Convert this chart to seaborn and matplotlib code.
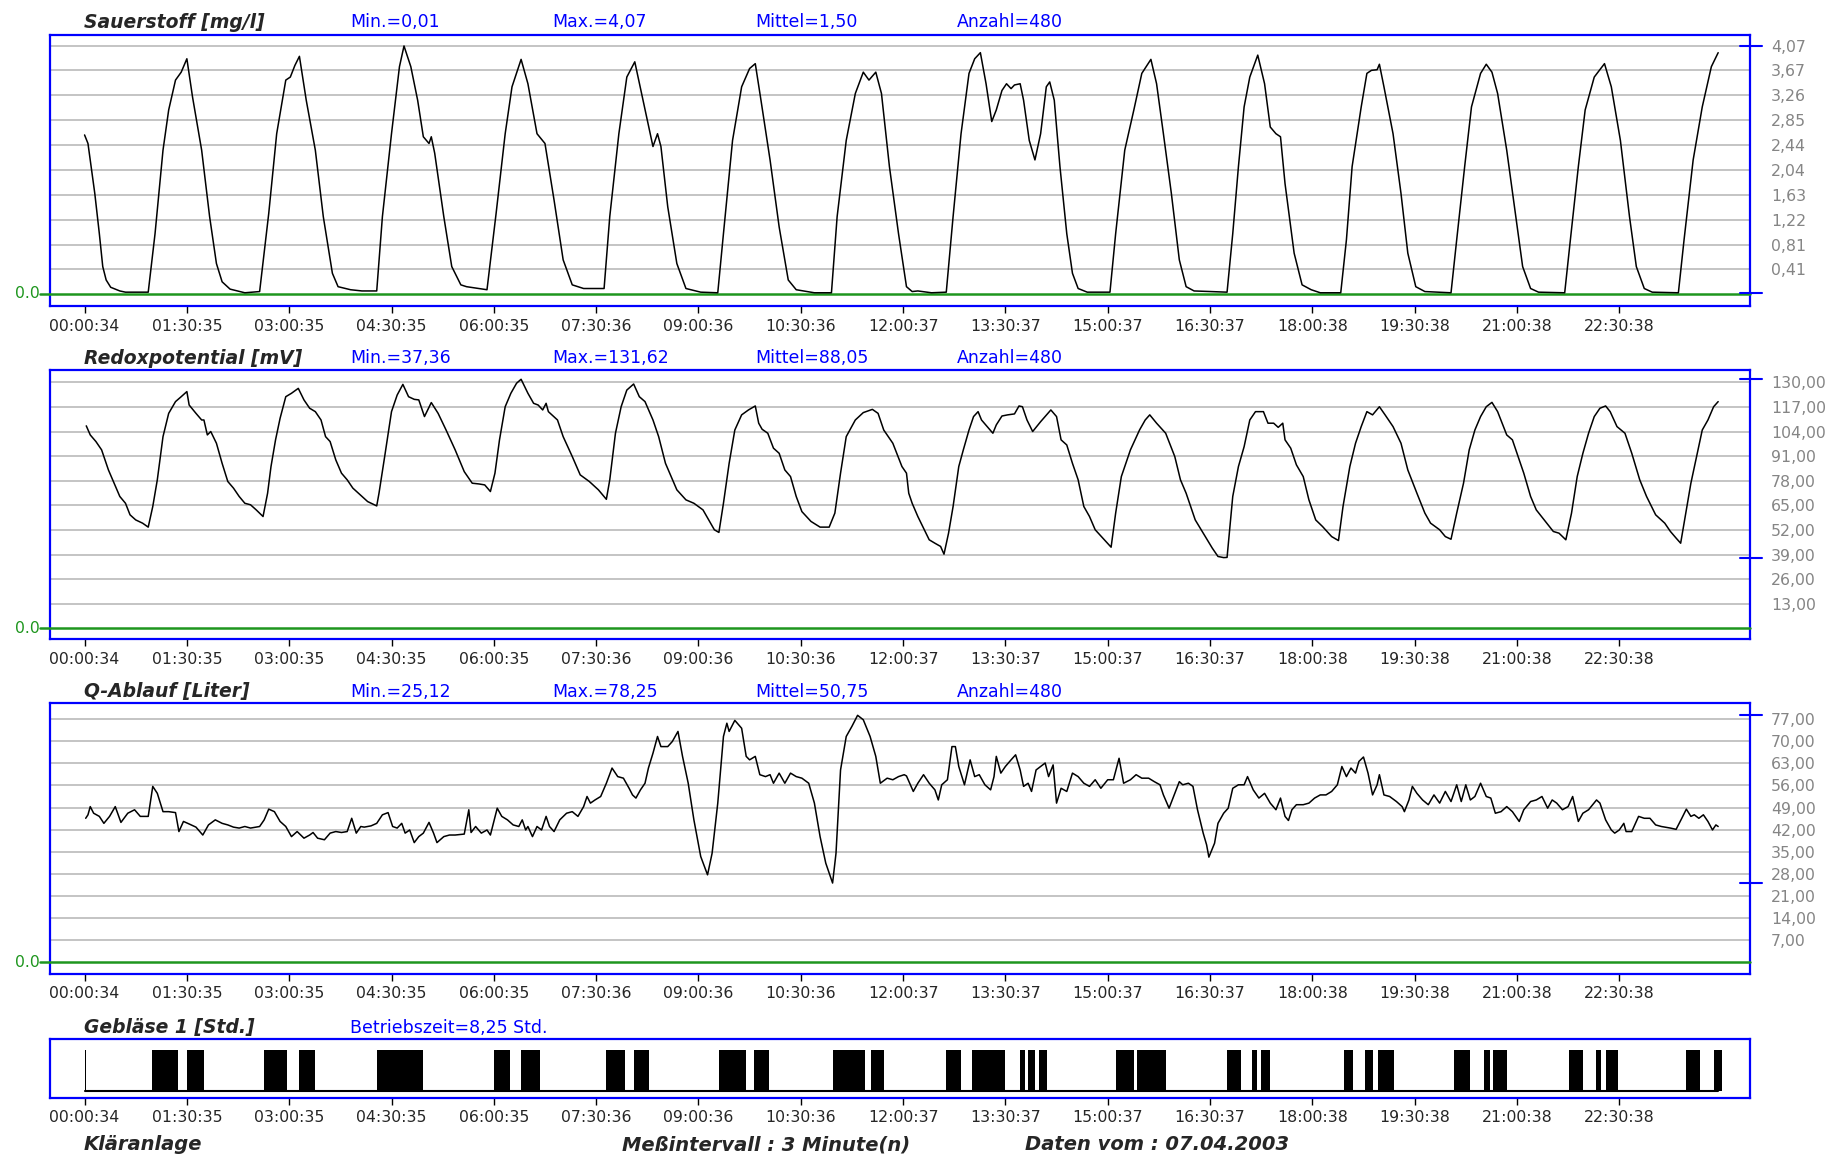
import pandas as pd
import matplotlib
matplotlib.use("Agg")
import matplotlib.pyplot as plt
import seaborn as sns
from matplotlib.transforms import blended_transform_factory

sns.set_style("white")
plt.rcParams['font.family'] = ['DejaVu Sans']

sauerstoff = [(0, 2.61), (3, 2.47), (5, 2.2), (9, 1.65), (13, 0.99), (16, 0.45), (19, 0.23), (23, 0.11), (31, 0.05), (36, 0.03),
              (56, 0.03), (62, 0.99), (69, 2.36), (74, 3.02), (80, 3.51), (85, 3.64), (90, 3.86), (95, 3.23), (103, 2.36), (110, 1.27),
              (116, 0.5), (121, 0.2), (128, 0.08), (141, 0.02), (154, 0.04), (162, 1.32), (169, 2.63), (177, 3.51), (181, 3.56), (185, 3.75),
              (189, 3.9), (195, 3.18), (203, 2.36), (210, 1.27), (218, 0.34), (223, 0.12), (234, 0.07), (244, 0.05), (257, 0.05), (262, 1.27),
              (270, 2.63), (277, 3.73), (281, 4.07), (287, 3.73), (293, 3.18), (298, 2.58), (303, 2.47), (305, 2.58), (308, 2.31), (316, 1.27),
              (323, 0.45), (331, 0.15), (336, 0.12), (354, 0.07), (362, 1.32), (370, 2.63), (376, 3.4), (384, 3.85), (390, 3.45), (398, 2.63),
              (405, 2.47), (413, 1.54), (421, 0.56), (429, 0.15), (439, 0.09), (457, 0.09), (462, 1.27), (470, 2.63), (477, 3.56), (484, 3.81),
              (490, 3.29), (495, 2.85), (500, 2.42), (504, 2.63), (507, 2.42), (513, 1.43), (521, 0.5), (529, 0.09), (542, 0.03), (557, 0.02),
              (562, 0.99), (570, 2.52), (578, 3.4), (585, 3.7), (590, 3.78), (595, 3.18), (603, 2.2), (611, 1.1), (619, 0.23), (626, 0.07),
              (642, 0.02), (657, 0.02), (662, 1.27), (670, 2.52), (678, 3.29), (685, 3.64), (690, 3.51), (696, 3.64), (701, 3.29), (708, 2.09),
              (716, 0.99), (723, 0.12), (728, 0.04), (733, 0.05), (745, 0.02), (758, 0.03), (764, 1.27), (771, 2.63), (778, 3.62), (783, 3.86),
              (788, 3.96), (793, 3.45), (798, 2.83), (802, 3.02), (807, 3.34), (811, 3.45), (815, 3.37), (818, 3.43), (823, 3.45), (826, 3.18),
              (831, 2.52), (836, 2.2), (841, 2.63), (846, 3.4), (849, 3.48), (853, 3.18), (858, 2.09), (864, 0.99), (869, 0.34), (874, 0.09),
              (882, 0.03), (902, 0.03), (907, 0.99), (915, 2.36), (923, 3.02), (930, 3.62), (938, 3.85), (943, 3.45), (949, 2.63), (956, 1.65),
              (963, 0.56), (969, 0.12), (976, 0.05), (1005, 0.03), (1010, 0.99), (1015, 2.09), (1020, 3.07), (1025, 3.56), (1032, 3.92), (1038, 3.45),
              (1043, 2.74), (1048, 2.63), (1052, 2.58), (1056, 1.81), (1064, 0.67), (1071, 0.15), (1079, 0.07), (1087, 0.02), (1105, 0.02), (1110, 0.89),
              (1115, 2.09), (1123, 3.07), (1128, 3.62), (1132, 3.67), (1137, 3.68), (1139, 3.77), (1143, 3.4), (1151, 2.63), (1158, 1.65), (1164, 0.67),
              (1171, 0.12), (1179, 0.04), (1202, 0.02), (1207, 0.89), (1214, 2.09), (1220, 3.07), (1228, 3.62), (1233, 3.77), (1238, 3.64), (1243, 3.29),
              (1251, 2.36), (1259, 1.27), (1265, 0.45), (1272, 0.09), (1279, 0.03), (1302, 0.02), (1307, 0.89), (1314, 2.09), (1320, 3.02), (1328, 3.56),
              (1337, 3.78), (1343, 3.4), (1351, 2.52), (1359, 1.27), (1365, 0.45), (1372, 0.09), (1379, 0.03), (1402, 0.02), (1407, 0.89), (1415, 2.2),
              (1423, 3.07), (1431, 3.73), (1437, 3.96)]

redox = [(1.5, 107.0), (5, 102.2), (10, 98.7), (15, 94.3), (21, 83.7), (26, 76.7), (31, 69.7), (36, 66.1), (40, 60.0), (45, 57.3),
         (51, 55.6), (56, 53.5), (60, 64.4), (64, 78.5), (69, 101.3), (74, 113.6), (80, 119.8), (85, 122.4), (90, 125.1), (92, 118.0),
         (98, 113.6), (103, 110.1), (105, 110.1), (108, 102.2), (111, 104.0), (116, 97.8), (121, 87.2), (126, 77.6), (131, 74.1), (136, 69.7),
         (141, 66.1), (146, 65.3), (151, 62.6), (157, 59.1), (161, 71.4), (164, 85.5), (168, 99.6), (172, 111.0), (177, 122.4), (182, 124.2),
         (188, 126.8), (193, 120.7), (198, 116.3), (203, 114.5), (208, 110.1), (212, 101.3), (216, 98.7), (221, 89.0), (226, 82.0), (231, 78.5),
         (236, 74.1), (244, 69.7), (249, 67.0), (257, 64.7), (259, 71.4), (264, 90.8), (270, 114.5), (275, 123.3), (280, 128.9), (285, 122.4),
         (290, 121.0), (294, 120.7), (299, 111.9), (305, 119.3), (311, 113.6), (318, 104.8), (326, 94.3), (334, 82.8), (341, 76.7), (347, 76.3),
         (352, 75.8), (357, 72.3), (361, 82.0), (365, 99.6), (370, 117.1), (375, 124.2), (380, 129.5), (384, 131.6), (390, 124.2), (395, 118.9),
         (399, 118.0), (403, 115.4), (406, 118.9), (408, 114.5), (416, 110.1), (421, 101.3), (429, 90.8), (436, 81.1), (444, 77.6), (452, 73.2),
         (459, 68.2), (462, 78.5), (467, 103.1), (472, 117.1), (477, 125.9), (483, 129.1), (488, 122.4), (493, 119.8), (500, 110.1), (505, 101.3),
         (511, 87.2), (516, 80.2), (521, 73.2), (529, 67.9), (536, 66.1), (544, 62.6), (549, 57.3), (554, 52.1), (558, 50.7), (562, 66.1),
         (567, 87.2), (572, 104.8), (578, 112.8), (584, 115.4), (590, 117.5), (593, 108.4), (596, 105.2), (601, 103.1), (606, 95.2), (611, 92.5),
         (616, 83.7), (621, 80.2), (626, 69.7), (631, 61.7), (639, 56.5), (647, 53.5), (655, 53.5), (660, 60.9), (665, 82.0), (670, 101.3),
         (678, 110.1), (685, 114.0), (693, 115.7), (698, 113.6), (703, 104.8), (711, 97.8), (719, 85.5), (723, 82.0), (725, 71.4), (728, 66.1),
         (733, 59.1), (738, 52.9), (743, 46.8), (748, 45.0), (753, 43.3), (756, 39.2), (760, 50.3), (764, 64.4), (769, 85.5), (773, 94.3),
         (778, 104.8), (782, 111.9), (786, 114.5), (789, 110.1), (794, 106.6), (799, 103.1), (802, 107.5), (807, 112.2), (812, 112.8), (818, 113.3),
         (822, 117.5), (825, 117.1), (829, 110.1), (834, 104.0), (841, 109.2), (850, 115.4), (855, 111.9), (859, 99.6), (864, 96.9), (869, 87.2),
         (874, 78.5), (879, 64.4), (884, 59.1), (889, 52.1), (897, 46.8), (903, 42.9), (907, 60.9), (912, 80.2), (920, 94.3), (928, 104.8),
         (933, 110.1), (937, 112.8), (943, 108.4), (951, 103.1), (959, 90.8), (964, 78.5), (969, 71.4), (977, 57.3), (984, 50.3), (992, 42.4),
         (997, 38.0), (1002, 37.4), (1005, 37.5), (1010, 69.7), (1015, 85.5), (1020, 96.0), (1025, 110.1), (1030, 114.5), (1037, 114.5), (1041, 108.4),
         (1046, 108.4), (1050, 106.2), (1054, 108.4), (1056, 99.6), (1061, 95.2), (1066, 86.4), (1072, 80.2), (1077, 67.9), (1083, 57.3), (1089, 53.8),
         (1097, 48.5), (1103, 46.4), (1107, 64.4), (1113, 85.5), (1118, 97.8), (1123, 106.6), (1128, 114.5), (1133, 112.8), (1139, 117.1), (1144, 112.8),
         (1151, 106.6), (1158, 97.8), (1164, 83.7), (1172, 71.4), (1179, 60.9), (1184, 55.6), (1192, 52.1), (1197, 48.5), (1202, 47.1), (1207, 60.9),
         (1213, 76.7), (1218, 94.3), (1223, 104.8), (1228, 111.9), (1233, 117.1), (1238, 119.4), (1243, 114.5), (1251, 102.2), (1256, 99.6), (1261, 90.8),
         (1266, 82.0), (1272, 69.7), (1277, 62.6), (1284, 57.3), (1292, 51.2), (1297, 50.3), (1303, 46.8), (1308, 60.9), (1313, 80.2), (1318, 92.5),
         (1323, 103.1), (1328, 111.9), (1333, 116.3), (1338, 117.5), (1342, 114.5), (1348, 106.6), (1355, 103.1), (1361, 92.5), (1368, 78.5), (1374, 69.7),
         (1382, 60.0), (1390, 55.6), (1395, 51.2), (1400, 47.7), (1404, 45.0), (1408, 59.1), (1413, 76.7), (1418, 90.8), (1423, 104.8), (1428, 110.1),
         (1433, 117.1), (1437, 119.8)]

q_ablauf = [(1, 45.6), (3, 46.7), (5, 49.3), (8, 47.2), (13, 46.2), (17, 44.0), (22, 46.2), (27, 49.3), (32, 44.3), (38, 47.2),
            (44, 48.3), (49, 46.2), (56, 46.2), (60, 55.7), (64, 53.5), (69, 47.7), (74, 47.7), (80, 47.4), (83, 41.4), (87, 44.6),
            (92, 43.8), (98, 42.8), (104, 40.3), (109, 43.5), (115, 45.1), (121, 44.0), (126, 43.5), (131, 42.8), (136, 42.5), (141, 43.0),
            (146, 42.5), (154, 43.0), (158, 45.1), (162, 48.5), (167, 47.7), (172, 44.6), (177, 43.0), (182, 39.8), (187, 41.4), (193, 39.3),
            (198, 40.3), (201, 41.1), (205, 39.3), (211, 38.8), (216, 40.9), (221, 41.4), (226, 41.1), (231, 41.4), (235, 45.6), (239, 40.9),
            (243, 43.0), (246, 42.8), (252, 43.2), (257, 44.0), (262, 46.7), (267, 47.4), (271, 43.0), (275, 42.5), (279, 44.0), (282, 40.9),
            (286, 41.9), (290, 37.9), (294, 39.8), (298, 40.9), (303, 44.3), (307, 40.9), (310, 37.9), (316, 39.8), (321, 40.3), (326, 40.3),
            (334, 40.6), (338, 48.3), (340, 41.1), (344, 43.0), (349, 40.9), (354, 41.9), (357, 40.3), (363, 48.8), (367, 46.2), (372, 45.1),
            (377, 43.5), (382, 43.0), (385, 45.1), (388, 41.9), (390, 43.0), (394, 39.8), (398, 43.0), (402, 41.9), (406, 46.2), (409, 43.0),
            (413, 41.4), (418, 45.1), (424, 47.2), (429, 47.7), (434, 46.2), (439, 49.3), (442, 52.5), (445, 50.4), (449, 51.4), (454, 52.5),
            (459, 56.7), (464, 61.5), (469, 58.8), (474, 58.3), (479, 55.1), (482, 53.0), (485, 52.0), (489, 54.6), (493, 56.7), (496, 61.5),
            (500, 66.2), (504, 71.5), (507, 68.3), (513, 68.3), (517, 69.9), (522, 73.1), (526, 65.2), (531, 56.7), (536, 45.1), (542, 33.5),
            (548, 27.7), (552, 34.5), (557, 50.4), (562, 71.5), (565, 75.7), (567, 73.1), (572, 76.6), (578, 74.1), (582, 65.2), (585, 64.1),
            (590, 65.2), (594, 59.4), (599, 58.8), (603, 59.4), (606, 56.7), (611, 59.9), (616, 56.7), (621, 59.9), (626, 58.8), (631, 58.3),
            (637, 56.7), (642, 50.4), (647, 39.8), (652, 31.4), (658, 25.1), (661, 34.5), (665, 60.9), (670, 71.5), (675, 74.7), (680, 78.2),
            (685, 76.8), (691, 71.5), (696, 65.2), (700, 56.7), (706, 58.3), (711, 57.8), (716, 58.8), (721, 59.4), (723, 59.0), (729, 54.1),
            (733, 56.7), (738, 59.4), (743, 56.7), (748, 54.6), (751, 51.4), (754, 56.2), (759, 57.8), (763, 68.3), (766, 68.3), (769, 62.0),
            (774, 56.2), (779, 64.1), (783, 58.8), (787, 59.4), (792, 56.2), (797, 54.6), (800, 58.8), (802, 65.2), (806, 59.9), (810, 62.0),
            (815, 64.1), (819, 65.7), (823, 60.9), (826, 55.7), (830, 56.7), (833, 54.1), (837, 60.9), (841, 62.0), (845, 63.1), (848, 58.8),
            (852, 62.5), (855, 50.4), (859, 55.1), (864, 54.1), (869, 59.9), (874, 58.8), (879, 56.7), (884, 55.7), (889, 57.8), (894, 55.1),
            (900, 57.8), (905, 57.8), (910, 64.6), (914, 56.7), (920, 57.8), (925, 59.4), (930, 58.3), (936, 58.3), (941, 57.2), (946, 56.2),
            (949, 53.0), (954, 48.8), (959, 53.5), (963, 57.2), (966, 56.2), (971, 56.7), (975, 55.7), (979, 48.3), (984, 40.9), (987, 37.2),
            (989, 33.3), (994, 37.7), (997, 44.0), (1002, 47.2), (1006, 48.8), (1010, 55.1), (1015, 56.2), (1020, 56.2), (1023, 58.8), (1028, 54.6),
            (1033, 52.0), (1038, 53.5), (1043, 50.4), (1048, 48.3), (1052, 52.0), (1056, 46.2), (1059, 44.9), (1062, 48.3), (1066, 49.9), (1072, 49.9),
            (1077, 50.4), (1082, 52.0), (1087, 53.0), (1092, 53.0), (1097, 54.1), (1102, 56.2), (1106, 62.0), (1110, 58.8), (1114, 61.5), (1118, 59.9),
            (1121, 63.6), (1125, 65.0), (1129, 59.9), (1133, 53.0), (1137, 56.2), (1139, 59.4), (1143, 53.0), (1148, 52.5), (1154, 50.9), (1159, 49.3),
            (1161, 47.7), (1165, 51.4), (1168, 55.7), (1172, 53.5), (1177, 51.4), (1182, 49.9), (1187, 53.0), (1192, 50.4), (1197, 54.1), (1202, 50.9),
            (1207, 56.2), (1211, 50.9), (1215, 56.2), (1219, 51.4), (1223, 52.5), (1228, 56.7), (1233, 52.5), (1237, 52.0), (1241, 47.2), (1246, 47.7),
            (1251, 49.3), (1256, 47.7), (1262, 44.6), (1266, 48.3), (1272, 50.9), (1277, 51.4), (1282, 52.5), (1287, 48.8), (1291, 51.4), (1295, 50.4),
            (1300, 48.3), (1305, 49.3), (1309, 52.5), (1314, 44.6), (1318, 47.2), (1323, 48.3), (1330, 51.4), (1333, 50.4), (1338, 45.1), (1343, 41.9),
            (1346, 40.9), (1350, 41.9), (1354, 44.0), (1356, 41.4), (1361, 41.4), (1367, 46.2), (1372, 45.6), (1377, 45.6), (1382, 43.5), (1387, 43.0),
            (1395, 42.5), (1400, 42.1), (1405, 45.6), (1409, 48.5), (1413, 46.2), (1416, 46.7), (1420, 45.6), (1424, 46.7), (1428, 44.6), (1432, 41.9),
            (1435, 43.5), (1437, 43.0)]

# Gebläse 1: Laufzeiten (von, bis) in Minuten
geblaese = [(0, 1.5), (59, 82), (90, 104.7), (158, 178), (189, 202.7), (257, 297.6), (360, 374.5), (384, 400.7),
            (459, 475.6), (483, 496.7), (558, 582), (588.5, 601.8), (658, 686.5), (692, 703.4), (758, 770.6), (781, 809.6),
            (823, 827), (830, 836), (840, 846.6), (907, 923), (926, 951), (1005, 1017), (1027, 1031), (1035, 1043),
            (1107.6, 1115.8), (1126, 1133), (1138, 1151.7), (1205, 1218.5), (1231, 1236), (1239, 1251), (1306, 1318),
            (1329.5, 1333.6), (1338, 1349), (1408.6, 1421), (1433, 1440)]

zeit_ticks = [0, 90, 180, 270, 360, 450, 540, 630, 720, 810, 900, 990, 1080, 1170, 1260, 1350]
zeit_labels = ['00:00:34', '01:30:35', '03:00:35', '04:30:35', '06:00:35', '07:30:36', '09:00:36', '10:30:36',
               '12:00:37', '13:30:37', '15:00:37', '16:30:37', '18:00:38', '19:30:38', '21:00:38', '22:30:38']

sauer_ticks = [0.41, 0.81, 1.22, 1.63, 2.04, 2.44, 2.85, 3.26, 3.67, 4.07]
redox_ticks = [13, 26, 39, 52, 65, 78, 91, 104, 117, 130]
q_ticks = [7, 14, 21, 28, 35, 42, 49, 56, 63, 70, 77]

panels = [
    ('Sauerstoff [mg/l]', ['Min.=0,01', 'Max.=4,07', 'Mittel=1,50', 'Anzahl=480'], 0.01, 4.07),
    ('Redoxpotential [mV]', ['Min.=37,36', 'Max.=131,62', 'Mittel=88,05', 'Anzahl=480'], 37.36, 131.62),
    ('Q-Ablauf [Liter]', ['Min.=25,12', 'Max.=78,25', 'Mittel=50,75', 'Anzahl=480'], 25.12, 78.25),
]

BLAU = '#0000ff'
GRUEN = '#1e961e'
W, H = 1830, 1158

fig = plt.figure(figsize=(W / 100, H / 100), dpi=100)


def box(l, t, r, b):
    return [l / W, 1 - b / H, (r - l) / W, (b - t) / H]


def rahmen(ax):
    ax.set_xlim(-30.4, 1465)
    for s in ax.spines.values():
        s.set_visible(True)
        s.set_color(BLAU)
        s.set_linewidth(1.6)
    ax.set_xticks(zeit_ticks)
    ax.set_xticklabels(zeit_labels)
    ax.tick_params(axis='x', direction='out', length=5, width=1, color='black',
                   labelsize=11.3, pad=4, bottom=True)
    ax.set_xlabel('')
    ax.set_ylabel('')


def kopf(y, titel, stats):
    fig.text(84 / W, 1 - y / H, titel, fontsize=13.5, fontweight='bold', fontstyle='italic',
             ha='left', va='center')
    for x, s in zip([350, 552, 755, 957], stats):
        fig.text(x / W, 1 - y / H, s, fontsize=12.5, color=BLAU, ha='left', va='center')


boxen = [(50, 35, 1750, 306), (50, 370, 1750, 639), (50, 703, 1750, 974)]
kopf_y = [22, 358, 692]
grenzen = [(-0.197, 4.25), (-5.6, 136.5), (-3.7, 82.1)]
reihen = [sauerstoff, redox, q_ablauf]
ticks = [sauer_ticks, redox_ticks, q_ticks]

for i in range(3):
    ax = fig.add_axes(box(*boxen[i]))
    df = pd.DataFrame(reihen[i], columns=['minuten', 'wert'])
    sns.lineplot(data=df, x='minuten', y='wert', ax=ax, color='black', linewidth=1.1,
                 estimator=None, sort=False, zorder=4)
    rahmen(ax)
    ax.set_ylim(*grenzen[i])
    ax.yaxis.tick_right()
    ax.set_yticks(ticks[i])
    ax.set_yticklabels([f'{v:.2f}'.replace('.', ',') for v in ticks[i]])
    ax.tick_params(axis='y', length=0, pad=15, labelsize=11.3, labelcolor='#858585')
    ax.grid(axis='y', color='#c4c4c4', linewidth=1.4, zorder=1)
    ax.grid(axis='x', visible=False)
    ax.axhline(0, xmin=-0.006, xmax=1, color=GRUEN, linewidth=1.8, clip_on=False, zorder=3)
    trans = blended_transform_factory(ax.transAxes, ax.transData)
    ax.text(-0.006, 0, '0.0', transform=trans, color=GRUEN, fontsize=11.3, ha='right', va='center')
    titel, stats, vmin, vmax = panels[i]
    for v in (vmin, vmax):
        ax.axhline(v, xmin=0.994, xmax=1.007, color=BLAU, linewidth=1.5, clip_on=False, zorder=5)
    kopf(kopf_y[i], titel, stats)

# Gebläse
ax4 = fig.add_axes(box(50, 1039, 1750, 1098))
rahmen(ax4)
ax4.set_ylim(-0.18, 1.27)
ax4.set_yticks([])
ax4.broken_barh([(a, b - a) for a, b in geblaese], (0, 1), facecolors='black', edgecolors='none')
zeit = [p[0] for p in sauerstoff]
ax4.plot([zeit[0], zeit[-1]], [0, 0], color='black', linewidth=1.5)
kopf(1028, 'Gebläse 1 [Std.]', ['Betriebszeit=8,25 Std.'])

# Fußzeile
for x, s in [(84, 'Kläranlage'), (622, 'Meßintervall : 3 Minute(n)'), (1025, 'Daten vom : 07.04.2003')]:
    fig.text(x / W, 1 - 1145 / H, s, fontsize=14, fontweight='bold', fontstyle='italic',
             ha='left', va='center')

fig.savefig('out.png', dpi=100, facecolor='white')
